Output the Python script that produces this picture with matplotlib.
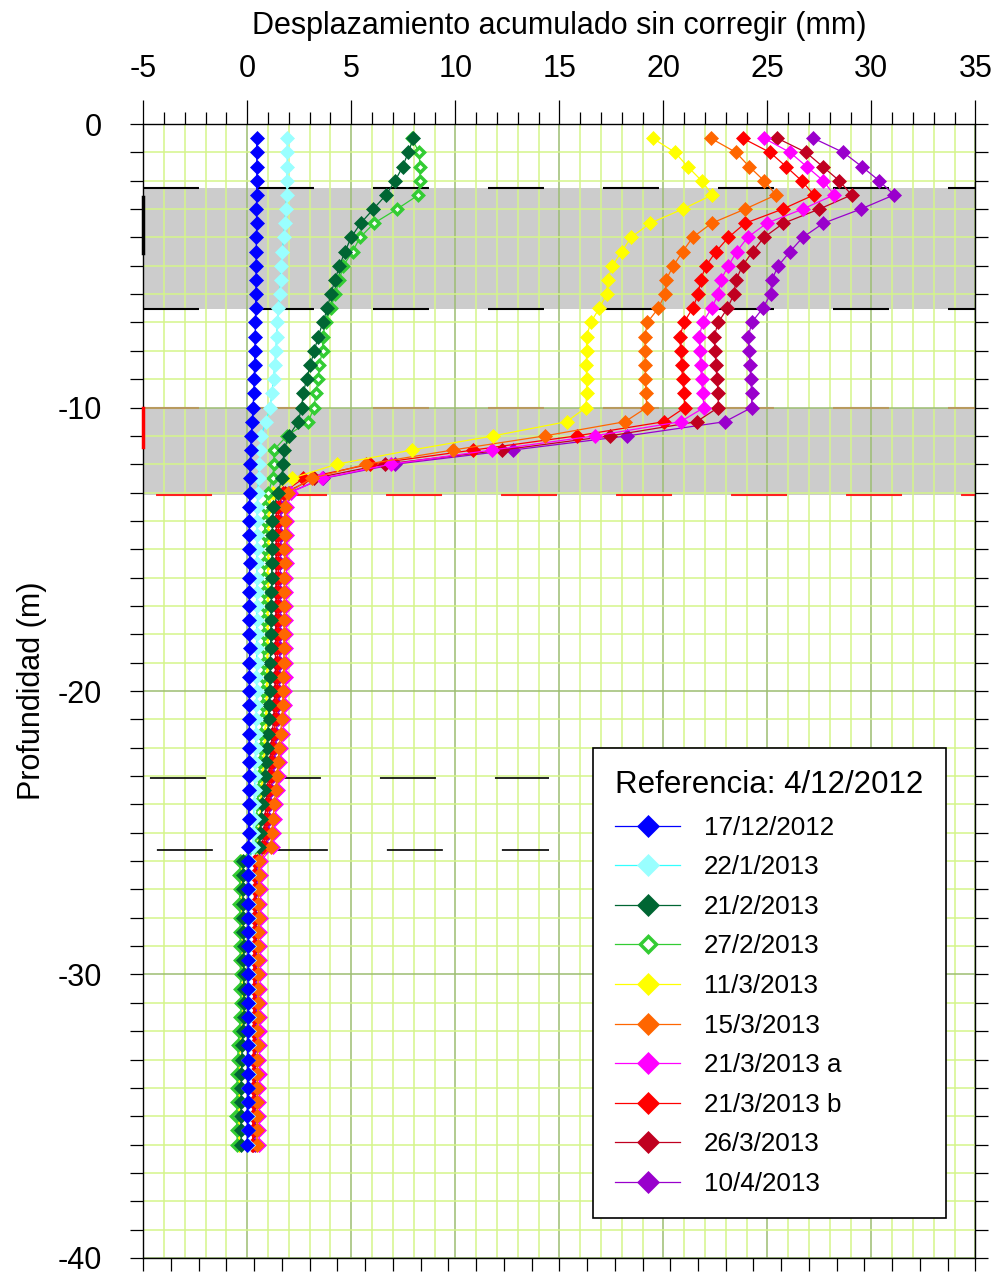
import matplotlib
matplotlib.use('Agg')
import matplotlib.pyplot as plt
from matplotlib.ticker import MultipleLocator
from matplotlib.lines import Line2D

plt.rcParams['font.family'] = ['Liberation Sans', 'DejaVu Sans']
plt.rcParams['axes.unicode_minus'] = False
plt.rcParams['lines.scale_dashes'] = False

# profundidad de lectura (m), cada 0.5 m
profundidad = [-0.5, -1.0, -1.5, -2.0, -2.5, -3.0, -3.5, -4.0, -4.5, -5.0,
               -5.5, -6.0, -6.5, -7.0, -7.5, -8.0, -8.5, -9.0, -9.5, -10.0,
               -10.5, -11.0, -11.5, -12.0, -12.5, -13.0, -13.5, -14.0, -14.5, -15.0,
               -15.5, -16.0, -16.5, -17.0, -17.5, -18.0, -18.5, -19.0, -19.5, -20.0,
               -20.5, -21.0, -21.5, -22.0, -22.5, -23.0, -23.5, -24.0, -24.5, -25.0,
               -25.5, -26.0, -26.5, -27.0, -27.5, -28.0, -28.5, -29.0, -29.5, -30.0,
               -30.5, -31.0, -31.5, -32.0, -32.5, -33.0, -33.5, -34.0, -34.5, -35.0,
               -35.5, -36.0]

fechas = ['17/12/2012', '22/1/2013', '21/2/2013', '27/2/2013', '11/3/2013',
          '15/3/2013', '21/3/2013 a', '21/3/2013 b', '26/3/2013', '10/4/2013']

d_17_12 = [0.45, 0.45, 0.46, 0.45, 0.45, 0.44, 0.45, 0.44,
           0.43, 0.42, 0.42, 0.41, 0.40, 0.39, 0.38, 0.36, 0.35, 0.33, 0.31, 0.28,
           0.24, 0.19, 0.16, 0.14, 0.12, 0.11,
           0.10, 0.10, 0.09, 0.10, 0.11, 0.10, 0.10, 0.09, 0.10, 0.10, 0.11, 0.10, 0.10,
           0.09, 0.10, 0.10, 0.09, 0.08, 0.08, 0.07, 0.08, 0.07, 0.06, 0.06, 0.05,
           0.05, 0.05, 0.04, 0.05, 0.04, 0.04, 0.03, 0.04, 0.03, 0.03, 0.02, 0.03,
           0.02, 0.02, 0.01, 0.02, 0.01, 0.01, 0.00, 0.01, 0.00]
d_22_1 = [1.92, 1.93, 1.92, 1.91, 1.89, 1.85, 1.80, 1.75,
          1.68, 1.63, 1.60, 1.55, 1.50, 1.45, 1.41, 1.37, 1.32, 1.26, 1.18, 1.10,
          0.88, 0.68, 0.62, 0.58, 0.54, 0.50,
          0.48, 0.47, 0.48, 0.47, 0.46, 0.47, 0.46, 0.46, 0.45, 0.46, 0.45, 0.45, 0.44,
          0.45, 0.44, 0.43, 0.42, 0.40, 0.38, 0.36, 0.35, 0.33, 0.31, 0.29, 0.27,
          0.10, 0.09, 0.10, 0.09, 0.08, 0.09, 0.08, 0.08, 0.07, 0.08, 0.07, 0.06,
          0.07, 0.06, 0.05, 0.06, 0.05, 0.04, 0.05, 0.04, 0.03]
d_21_2 = [7.98, 7.74, 7.47, 7.11, 6.67, 6.06, 5.45, 4.99,
          4.70, 4.43, 4.22, 4.01, 3.85, 3.63, 3.41, 3.22, 3.03, 2.85, 2.69, 2.61,
          2.45, 2.00, 1.76, 1.72, 1.65, 1.49,
          1.25, 1.21, 1.20, 1.19, 1.18, 1.17, 1.16, 1.15, 1.14, 1.13, 1.12, 1.10, 1.09,
          1.07, 1.05, 1.02, 0.98, 0.93, 0.88, 0.83, 0.78, 0.72, 0.66, 0.60, 0.55,
          -0.20, -0.22, -0.21, -0.22, -0.20, -0.19, -0.18, -0.19, -0.17, -0.18, -0.16,
          -0.17, -0.22, -0.25, -0.27, -0.28, -0.30, -0.30, -0.31, -0.30, -0.30]
d_27_2 = [7.90, 8.26, 8.30, 8.30, 8.23, 7.20, 6.09, 5.42,
          5.06, 4.61, 4.43, 4.22, 4.01, 3.78, 3.62, 3.62, 3.46, 3.41, 3.30, 3.21,
          2.93, 1.90, 1.28, 1.28, 1.22, 1.01,
          0.85, 0.84, 0.83, 0.84, 0.82, 0.81, 0.82, 0.80, 0.80, 0.79, 0.78, 0.78, 0.77,
          0.76, 0.74, 0.72, 0.68, 0.64, 0.60, 0.56, 0.52, 0.48, 0.44, 0.40, 0.36,
          -0.35, -0.38, -0.36, -0.38, -0.35, -0.34, -0.33, -0.35, -0.32, -0.34, -0.31,
          -0.33, -0.40, -0.44, -0.46, -0.48, -0.50, -0.50, -0.52, -0.50, -0.48]
d_11_3 = [19.49, 20.56, 21.17, 21.84, 22.36, 20.93, 19.36, 18.45,
          18.00, 17.55, 17.32, 17.28, 16.92, 16.51, 16.31, 16.31, 16.30, 16.31, 16.31, 16.28,
          15.35, 11.83, 7.90, 4.29, 2.13, 1.25,
          1.02, 1.00, 0.99, 1.00, 0.98, 0.97, 0.98, 0.96, 0.96, 0.95, 0.95, 0.94, 0.93,
          0.92, 0.90, 0.88, 0.84, 0.80, 0.76, 0.72, 0.68, 0.64, 0.60, 0.56, 0.52,
          -0.28, -0.30, -0.29, -0.30, -0.28, -0.27, -0.26, -0.28, -0.25, -0.27, -0.24,
          -0.26, -0.32, -0.36, -0.38, -0.40, -0.42, -0.42, -0.44, -0.42, -0.40]
d_15_3 = [22.28, 23.49, 24.13, 24.84, 25.42, 23.93, 22.32, 21.41,
          20.93, 20.48, 20.13, 20.08, 19.76, 19.23, 19.12, 19.12, 19.13, 19.14, 19.17, 19.20,
          18.16, 14.31, 9.87, 5.71, 3.09, 1.95,
          1.80, 1.79, 1.80, 1.78, 1.79, 1.78, 1.77, 1.78, 1.76, 1.77, 1.75, 1.76, 1.74,
          1.72, 1.70, 1.66, 1.60, 1.54, 1.48, 1.42, 1.36, 1.30, 1.24, 1.18, 1.12,
          0.55, 0.54, 0.55, 0.53, 0.54, 0.52, 0.53, 0.51, 0.52, 0.50, 0.51,
          0.50, 0.49, 0.50, 0.48, 0.49, 0.47, 0.48, 0.46, 0.47, 0.45]
d_21_3a = [24.84, 26.09, 26.89, 27.69, 28.21, 26.70, 24.97, 24.05,
           23.53, 23.13, 22.76, 22.64, 22.32, 21.89, 21.73, 21.76, 21.79, 21.84, 21.89, 21.96,
           20.83, 16.71, 11.75, 6.89, 3.58, 2.08,
           1.90, 1.89, 1.90, 1.88, 1.89, 1.88, 1.87, 1.88, 1.86, 1.87, 1.85, 1.86, 1.84,
           1.82, 1.80, 1.76, 1.70, 1.64, 1.58, 1.52, 1.46, 1.40, 1.34, 1.28, 1.22,
           0.65, 0.64, 0.65, 0.63, 0.64, 0.62, 0.63, 0.61, 0.62, 0.60, 0.61,
           0.60, 0.59, 0.60, 0.58, 0.59, 0.57, 0.58, 0.56, 0.57, 0.55]
d_21_3b = [23.81, 25.13, 25.90, 26.65, 27.24, 25.74, 23.93, 23.13,
           22.53, 22.05, 21.79, 21.68, 21.41, 20.99, 20.80, 20.83, 20.88, 20.93, 20.99, 21.04,
           20.03, 15.84, 10.87, 5.90, 2.70, 1.72,
           1.50, 1.49, 1.50, 1.48, 1.49, 1.48, 1.47, 1.48, 1.46, 1.47, 1.45, 1.46, 1.44,
           1.42, 1.40, 1.36, 1.30, 1.24, 1.18, 1.12, 1.06, 1.00, 0.94, 0.88, 0.82,
           0.35, 0.34, 0.35, 0.33, 0.34, 0.32, 0.33, 0.31, 0.32, 0.30, 0.31,
           0.30, 0.29, 0.30, 0.28, 0.29, 0.27, 0.28, 0.26, 0.27, 0.25]
d_26_3 = [25.48, 26.86, 27.66, 28.46, 29.05, 27.50, 25.77, 24.84,
          24.29, 23.81, 23.49, 23.40, 23.08, 22.64, 22.44, 22.49, 22.53, 22.58, 22.64, 22.64,
          21.60, 17.44, 12.23, 6.60, 3.20, 1.82,
          1.40, 1.39, 1.40, 1.38, 1.39, 1.38, 1.37, 1.38, 1.36, 1.37, 1.35, 1.36, 1.34,
          1.32, 1.30, 1.26, 1.20, 1.14, 1.08, 1.02, 0.96, 0.90, 0.84, 0.78, 0.72,
          0.38, 0.37, 0.38, 0.36, 0.37, 0.35, 0.36, 0.34, 0.35, 0.33, 0.34,
          0.33, 0.32, 0.33, 0.31, 0.32, 0.30, 0.31, 0.29, 0.30, 0.28]
d_10_4 = [27.21, 28.65, 29.54, 30.38, 31.09, 29.49, 27.69, 26.70,
          26.09, 25.53, 25.21, 25.16, 24.78, 24.25, 24.09, 24.12, 24.17, 24.20, 24.25, 24.25,
          22.96, 18.27, 12.76, 7.10, 3.65, 2.00,
          1.60, 1.59, 1.60, 1.58, 1.59, 1.58, 1.57, 1.58, 1.56, 1.57, 1.55, 1.56, 1.54,
          1.52, 1.50, 1.46, 1.40, 1.34, 1.28, 1.22, 1.16, 1.10, 1.04, 0.98, 0.92,
          0.45, 0.44, 0.45, 0.43, 0.44, 0.42, 0.43, 0.41, 0.42, 0.40, 0.41,
          0.40, 0.39, 0.40, 0.38, 0.39, 0.37, 0.38, 0.36, 0.37, 0.35]

series = [d_17_12, d_22_1, d_21_2, d_27_2, d_11_3, d_15_3, d_21_3a, d_21_3b, d_26_3, d_10_4]
col_marcador = ['#0000ff', '#99ffff', '#006633', '#33cc33', '#ffff00',
                '#ff6600', '#ff00ff', '#ff0000', '#c00020', '#9900cc']
col_linea = ['#0000ff', '#33ffff', '#006633', '#33cc33', '#ffff00',
             '#ff6600', '#ff00ff', '#ff0000', '#c00020', '#9900cc']

# zonas sombreadas (m)
zonas = [(-6.54, -2.25), (-13.1, -10.0)]

fig = plt.figure(figsize=(9.93, 12.8), dpi=100)
ax = fig.add_axes([0.1443, 0.0172, 0.8379, 0.8859])

# eje inferior solo con marcas
ax2 = ax.twiny()
ax2.set_xlim(0, 30)
ax2.xaxis.set_major_locator(MultipleLocator(1))
ax2.xaxis.set_ticks_position('bottom')
ax2.tick_params(axis='x', which='both', direction='out', length=9, width=0.9,
                labelbottom=False, labeltop=False)
for s in ax2.spines.values():
    s.set_visible(False)

ax.set_xlim(-5, 35)
ax.set_ylim(-40, 0)
ax.xaxis.tick_top()
ax.xaxis.set_label_position('top')
ax.xaxis.set_major_locator(MultipleLocator(5))
ax.xaxis.set_minor_locator(MultipleLocator(1))
ax.yaxis.set_major_locator(MultipleLocator(10))
ax.yaxis.set_minor_locator(MultipleLocator(1))
ax.tick_params(axis='x', which='major', direction='out', length=17, width=0.9,
               labelsize=22, pad=12, top=True, bottom=False)
ax.tick_params(axis='x', which='minor', direction='out', length=8.5, width=0.9,
               top=True, bottom=False)
ax.tick_params(axis='y', which='both', direction='out', length=9.5, width=0.9,
               left=True, right=True, labelsize=22, pad=20)
for s in ax.spines.values():
    s.set_linewidth(1.0)

ax.grid(which='minor', color='#d4f58a', linewidth=1.1, zorder=1)
ax.grid(which='major', color='#9dbd72', linewidth=1.1, zorder=1)

for y0, y1 in zonas:
    ax.axhspan(y0, y1, color='#cccccc', lw=0, zorder=0.5)

dash = (0, (40.3, 42.5))
ax.plot([-5, 35], [-2.25, -2.25], color='black', lw=1.5, linestyle=dash, zorder=1.6)
ax.plot([-5, 35], [-6.54, -6.54], color='black', lw=1.5, linestyle=dash, zorder=1.6)
ax.plot([-5, 35], [-10.0, -10.0], color='#b89a5e', lw=1.5, linestyle=dash, zorder=1.6)
ax.plot([-5, 35], [-13.1, -13.1], color='#ff2020', lw=1.5, linestyle=(73.4, (40.3, 42.5)), zorder=1.6)
ax.plot([-5, 14.5], [-23.06, -23.06], color='black', lw=1.2, linestyle=(77.8, (40.3, 42.5)), zorder=1.6)
ax.plot([-5, 14.5], [-25.6, -25.6], color='black', lw=1.2, linestyle=(72.8, (40.3, 42.5)), zorder=1.6)
ax.plot([-5, -5], [-2.57, -4.55], color='black', lw=2.5, clip_on=False, zorder=3)
ax.plot([-5, -5], [-10.0, -11.4], color='#ff0000', lw=2.5, clip_on=False, zorder=3)

handles = []
for i in range(len(series)):
    hueco = (i == 3)
    kw = dict(marker='D', markersize=5.1 if hueco else 7.4,
              markerfacecolor='white' if hueco else col_marcador[i],
              markeredgecolor=col_marcador[i],
              markeredgewidth=2.5 if hueco else 0.5,
              color=col_linea[i], linewidth=0.9)
    ax.plot(series[i], profundidad, zorder=20 - i, **kw)
    handles.append(Line2D([], [], **kw))

ax.set_xlabel('Desplazamiento acumulado sin corregir (mm)', fontsize=22, labelpad=14)
ax.set_ylabel('Profundidad (m)', fontsize=22, labelpad=8)

leg = ax.legend(handles, fechas, title='Referencia: 4/12/2012', loc='upper left',
                bbox_to_anchor=(0.541, 0.4497), borderaxespad=0, fontsize=18.7,
                title_fontsize=22.5, fancybox=False, edgecolor='black', framealpha=1,
                markerscale=1.5, handlelength=2.5, handletextpad=0.9,
                labelspacing=0.6, borderpad=0.85, alignment='left')
leg.get_frame().set_linewidth(1.2)
leg.set_zorder(40)

fig.savefig('out.png', dpi=100)
